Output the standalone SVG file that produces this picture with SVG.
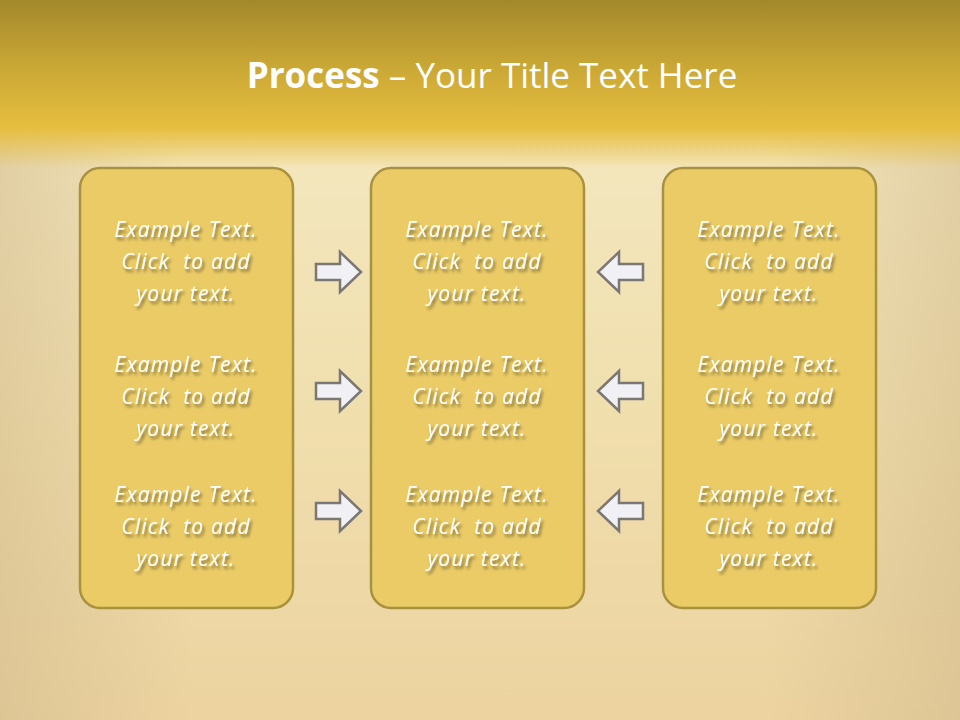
<svg xmlns="http://www.w3.org/2000/svg" width="960" height="720" viewBox="0 0 960 720">
<defs>
<linearGradient id="hdr" x1="0" y1="0" x2="0" y2="1">
<stop offset="0" stop-color="#A3882C"/>
<stop offset="0.5" stop-color="#C9A735"/>
<stop offset="1" stop-color="#E7BF40"/>
</linearGradient>
<linearGradient id="bg" x1="0" y1="0" x2="0" y2="1">
<stop offset="0" stop-color="#F1DFA4"/>
<stop offset="0.25" stop-color="#F3E6BC"/>
<stop offset="0.6" stop-color="#F0DEAC"/>
<stop offset="1" stop-color="#ECD3A0"/>
</linearGradient>
<linearGradient id="fade" x1="0" y1="0" x2="0" y2="1">
<stop offset="0" stop-color="#E7BF40" stop-opacity="1"/>
<stop offset="1" stop-color="#E7BF40" stop-opacity="0"/>
</linearGradient>
<linearGradient id="side" x1="0" y1="0" x2="1" y2="0">
<stop offset="0" stop-color="#CDB487" stop-opacity="0.45"/>
<stop offset="0.2" stop-color="#CDB487" stop-opacity="0"/>
<stop offset="0.8" stop-color="#CDB487" stop-opacity="0"/>
<stop offset="1" stop-color="#CDB487" stop-opacity="0.45"/>
</linearGradient>
<filter id="sh" x="-10%" y="-10%" width="130%" height="140%">
<feGaussianBlur in="SourceAlpha" stdDeviation="1.5"/>
<feOffset dx="2" dy="3" result="b"/>
<feFlood flood-color="#000" flood-opacity="0.45"/>
<feComposite in2="b" operator="in"/>
<feMerge><feMergeNode/><feMergeNode in="SourceGraphic"/></feMerge>
</filter>
</defs>
<style>
.box{fill:#EACB66;stroke:#A8913F;stroke-width:2.5}
.t{font-family:"Open Sans","Liberation Sans",Arial,sans-serif;font-style:italic;font-size:21px;letter-spacing:1.2px;fill:#FFFFFF;text-anchor:middle;white-space:pre}
.arr{fill:#F1F1F5;stroke:#7A7774;stroke-width:2.5;stroke-linejoin:miter}
.title{font-family:"Open Sans","Liberation Sans",sans-serif;font-size:35px;fill:#FFFFFF;text-anchor:middle}
</style>
<rect width="960" height="720" fill="url(#bg)"/>
<rect width="960" height="720" fill="url(#side)"/>
<rect width="960" height="130" fill="url(#hdr)"/>
<rect y="128" width="960" height="40" fill="url(#fade)"/>
<text class="title" x="492" y="88"><tspan font-weight="bold">Process</tspan> – Your Title Text Here</text>
<g id="connectors">
<path class="arr" d="M316,264 H340 V252 L361,272 L340,292 V280 H316 Z"/>
<path class="arr" d="M316,383 H340 V371 L361,391 L340,411 V399 H316 Z"/>
<path class="arr" d="M316,503 H340 V491 L361,511 L340,531 V519 H316 Z"/>
<path class="arr" d="M643,264 H619 V252 L598,272 L619,292 V280 H643 Z"/>
<path class="arr" d="M643,383 H619 V371 L598,391 L619,411 V399 H643 Z"/>
<path class="arr" d="M643,503 H619 V491 L598,511 L619,531 V519 H643 Z"/>
</g>
<g id="box-left">
<rect class="box" x="80" y="168" width="213" height="440" rx="20"/>
<g filter="url(#sh)">
<text class="t" x="186" y="237">Example Text.</text>
<text class="t" x="186" y="269">Click  to add</text>
<text class="t" x="186" y="301">your text.</text>
<text class="t" x="186" y="372">Example Text.</text>
<text class="t" x="186" y="404">Click  to add</text>
<text class="t" x="186" y="436">your text.</text>
<text class="t" x="186" y="502">Example Text.</text>
<text class="t" x="186" y="534">Click  to add</text>
<text class="t" x="186" y="566">your text.</text>
</g>
</g>
<g id="box-middle">
<rect class="box" x="371" y="168" width="213" height="440" rx="20"/>
<g filter="url(#sh)">
<text class="t" x="477" y="237">Example Text.</text>
<text class="t" x="477" y="269">Click  to add</text>
<text class="t" x="477" y="301">your text.</text>
<text class="t" x="477" y="372">Example Text.</text>
<text class="t" x="477" y="404">Click  to add</text>
<text class="t" x="477" y="436">your text.</text>
<text class="t" x="477" y="502">Example Text.</text>
<text class="t" x="477" y="534">Click  to add</text>
<text class="t" x="477" y="566">your text.</text>
</g>
</g>
<g id="box-right">
<rect class="box" x="663" y="168" width="213" height="440" rx="20"/>
<g filter="url(#sh)">
<text class="t" x="769" y="237">Example Text.</text>
<text class="t" x="769" y="269">Click  to add</text>
<text class="t" x="769" y="301">your text.</text>
<text class="t" x="769" y="372">Example Text.</text>
<text class="t" x="769" y="404">Click  to add</text>
<text class="t" x="769" y="436">your text.</text>
<text class="t" x="769" y="502">Example Text.</text>
<text class="t" x="769" y="534">Click  to add</text>
<text class="t" x="769" y="566">your text.</text>
</g>
</g>
</svg>
